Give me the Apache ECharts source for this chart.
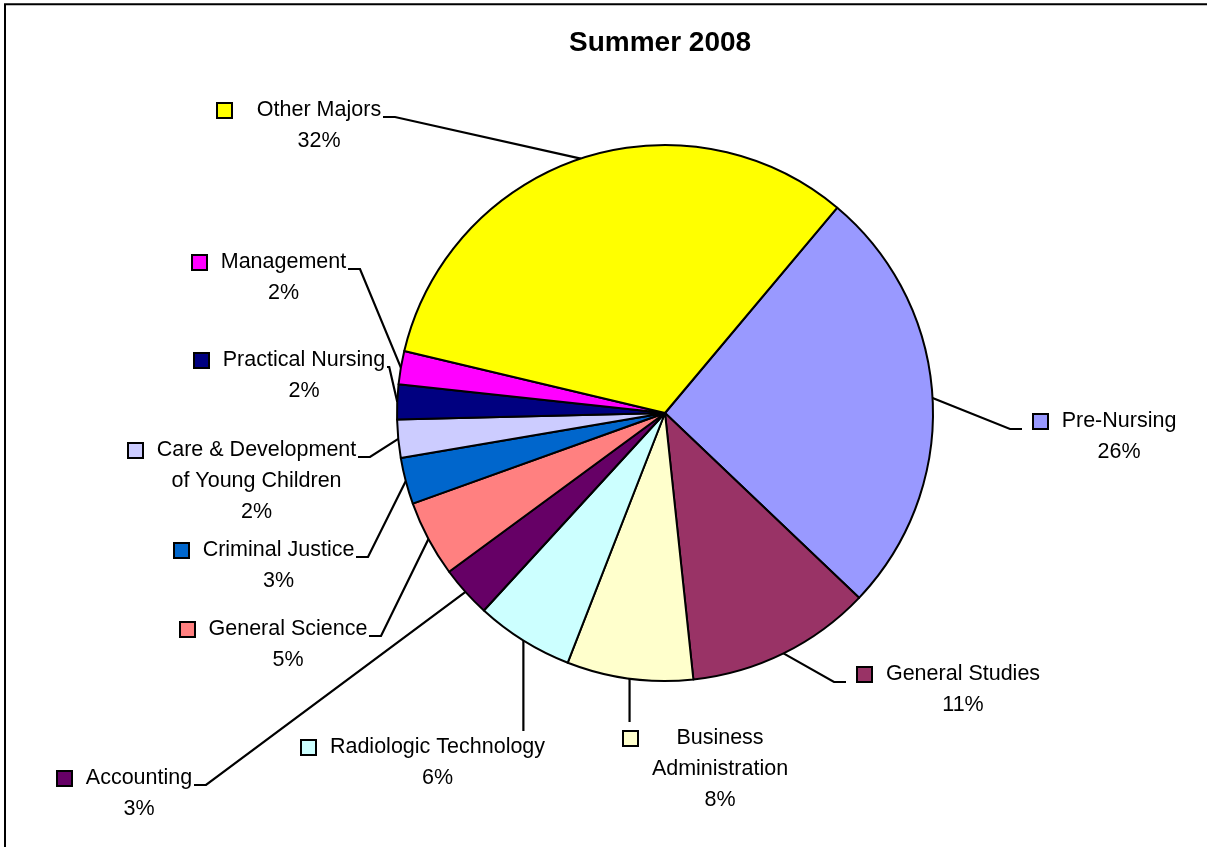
<!DOCTYPE html>
<html>
<head>
<meta charset="utf-8">
<title>Summer 2008</title>
<script src="https://cdn.jsdelivr.net/npm/echarts@6/dist/echarts.min.js"></script>
<style>
    html, body, #main {
        width: 100%;
        height: 100%;
        margin: 0;
        background: #fff;
    }
</style>
</head>
<body>
<div id="main"></div>
<script>
    // slices, clockwise from the Pre-Nursing wedge
    var majors = [
        'Pre-Nursing', 'General Studies', 'Business\nAdministration', 'Radiologic Technology',
        'Accounting', 'General Science', 'Criminal Justice', 'Care & Development\nof Young Children',
        'Practical Nursing', 'Management', 'Other Majors'
    ];
    var shares = [26.0, 11.2, 7.6, 5.9, 3.1, 4.6, 2.8, 2.3, 2.1, 2.0, 32.4];
    var sliceColors = [
        '#9999ff', '#993366', '#ffffcc', '#ccffff', '#660066', '#ff8080',
        '#0066cc', '#ccccff', '#000080', '#ff00ff', '#ffff00'
    ];

    var labelFont = '"Liberation Sans", Arial, sans-serif';
    var labelSize = 21.5;
    var lineH = 31;

    // label placement: R/B -> left edge of the key square, L -> right end of the text; base = first baseline
    var labelSpots = [
        {side: 'R', x: 1034, base: 429},
        {side: 'R', x: 858, base: 682},
        {side: 'B', x: 624, base: 746},
        {side: 'B', x: 302, base: 755},
        {side: 'L', x: 193, base: 786},
        {side: 'L', x: 368, base: 637},
        {side: 'L', x: 355, base: 558},
        {side: 'L', x: 357, base: 458},
        {side: 'L', x: 386, base: 368},
        {side: 'L', x: 347, base: 270},
        {side: 'L', x: 382, base: 118, gap: 25}
    ];

    var ctx = document.createElement('canvas').getContext('2d');
    ctx.font = labelSize + 'px ' + labelFont;
    function textW(s) {
        return ctx.measureText(s).width;
    }

    var blockW = [];
    var pieData = majors.map(function (name, i) {
        var w = Math.ceil(Math.max.apply(null, name.split('\n').map(textW))) + 1;
        var gap = labelSpots[i].gap || 14;
        blockW.push(w);
        return {
            name: name,
            value: shares[i],
            itemStyle: {color: sliceColors[i]},
            label: {
                rich: {
                    sq: {width: 13, height: 13, backgroundColor: sliceColors[i], borderColor: '#000', borderWidth: 2, align: 'center', lineHeight: lineH},
                    gap: {width: gap, align: 'center', lineHeight: lineH},
                    sp: {width: 13 + gap, align: 'center', lineHeight: lineH},
                    t: {width: w, align: 'center', fontFamily: labelFont, fontSize: labelSize, lineHeight: lineH, color: '#000'}
                }
            }
        };
    });

    var chart = echarts.init(document.getElementById('main'));
    var option = {
        animation: false,
        title: {
            text: 'Summer 2008',
            left: 569,
            top: 29,
            padding: 0,
            textStyle: {fontFamily: 'Liberation Sans', fontSize: 28, fontWeight: 'bold', color: '#000'}
        },
        graphic: [{
            type: 'rect',
            shape: {x: 5, y: 4.3, width: 1400, height: 1000},
            style: {fill: 'none', stroke: '#000', lineWidth: 2},
            silent: true
        }],
        series: [{
            type: 'pie',
            center: [665, 413],
            radius: 268,
            startAngle: 50,
            clockwise: true,
            avoidLabelOverlap: false,
            itemStyle: {borderColor: '#000', borderWidth: 2},
            emphasis: {disabled: true},
            label: {
                show: true,
                position: 'outside',
                lineHeight: lineH,
                fontFamily: labelFont,
                fontSize: labelSize,
                color: '#000',
                formatter: function (p) {
                    var lines = p.name.split('\n');
                    lines.push(Math.round(p.percent) + '%');
                    return lines.map(function (s, k) {
                        return (k === 0 ? '{sq|}{gap|}' : '{sp|}') + '{t|' + s + '}';
                    }).join('\n');
                }
            },
            labelLine: {
                show: true,
                smooth: false,
                lineStyle: {color: '#000', width: 2.2}
            },
            labelLayout: function (p) {
                var i = p.dataIndex;
                var s = labelSpots[i];
                var w = 13 + (s.gap || 14) + blockW[i];
                var start = p.labelLinePoints[0];
                var left, pts;
                if (s.side === 'L') {
                    left = s.x - w;
                    var y = s.base - 1;
                    var bend = s.x + Math.min(13, Math.max(2, start[0] - s.x - 8));
                    pts = [start, [bend, y], [s.x + 1, y]];
                } else if (s.side === 'R') {
                    left = s.x;
                    pts = [start, [s.x - 24, s.base], [s.x - 12, s.base]];
                } else {
                    left = s.x;
                    pts = [start, [start[0], s.base - 24], [start[0], s.base - 24]];
                }
                return {
                    x: left,
                    y: s.base - 23,
                    align: 'left',
                    verticalAlign: 'top',
                    labelLinePoints: pts
                };
            },
            data: pieData
        }]
    };
    chart.setOption(option);

    window.onresize = chart.resize;
</script>
</body>
</html>
